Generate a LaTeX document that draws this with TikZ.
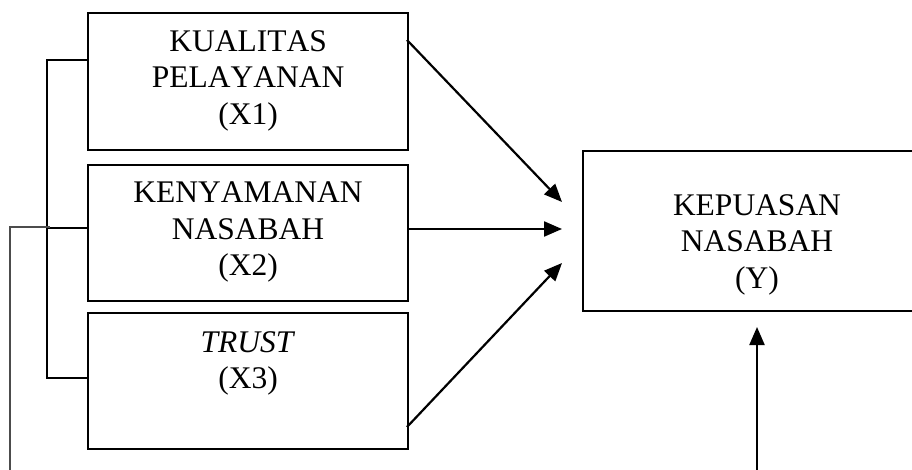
\documentclass[tikz,border=0pt]{standalone}
\usepackage{fontspec}
\setmainfont[Kerning=Off]{Liberation Serif}
\usetikzlibrary{arrows.meta}
\begin{document}
\begin{tikzpicture}[x=1pt,y=-1pt,
  box/.style={draw, line width=2.1pt, rectangle, inner sep=0pt, anchor=north west},
  lbl/.style={anchor=north, align=center, inner sep=0pt, font=\fontsize{31.5}{36.5}\selectfont},
  conn/.style={line width=2.1pt},
  thinconn/.style={line width=1.5pt, black!70},
  arr/.style={line width=2.2pt, -{Triangle[length=18pt,width=15pt]}}]
\useasboundingbox (0,0) rectangle (912,470);
% boxes
\node[box, minimum width=320pt, minimum height=137pt] (b1) at (87,12) {};
\node[box, minimum width=320pt, minimum height=136pt] (b2) at (87,164) {};
\node[box, minimum width=320pt, minimum height=136pt] (b3) at (87,312) {};
\node[box, minimum width=345pt, minimum height=160pt] (y) at (582,150) {};
% labels
\node[lbl] (t1) at ([yshift=-18pt]b1.north) {KUALITAS\\PELAYANAN\\(X1)};
\node[lbl] (t2) at ([yshift=-18pt]b2.north) {KENYAMANAN\\NASABAH\\(X2)};
\node[lbl] (t3) at ([yshift=-19pt]b3.north) {\textit{TRUST}\\(X3)};
\node[lbl] (ty) at ([yshift=-44pt]y.north -| 757,0) {KEPUASAN\\NASABAH\\(Y)};
% arrow coordinates
\coordinate (s1) at (407,40);
\coordinate (e1) at (562,202);
\coordinate (s2) at (407,229);
\coordinate (e2) at (562,229);
\coordinate (s3) at (407,427);
\coordinate (e3) at (562,263);
\coordinate (s4) at (757,470);
\coordinate (e4) at (757,327);
\draw[arr] (s1) -- (e1);
\draw[arr] (s2) -- (e2);
\draw[arr] (s3) -- (e3);
\draw[arr] (s4) -- (e4);
% bracket
\coordinate (k1) at (47,60);
\coordinate (k2) at (47,228);
\coordinate (k3) at (47,378);
\draw[conn] (b1.west |- k1) -- (k1) -- (k3) -- (b3.west |- k3);
\draw[conn] (k2) -- (b2.west |- k2);
% left line
\coordinate (l1) at (10,470);
\coordinate (l2) at (10,227);
\coordinate (l3) at (50,227);
\draw[thinconn] (l1) -- (l2) -- (l3);
\end{tikzpicture}
\end{document}
